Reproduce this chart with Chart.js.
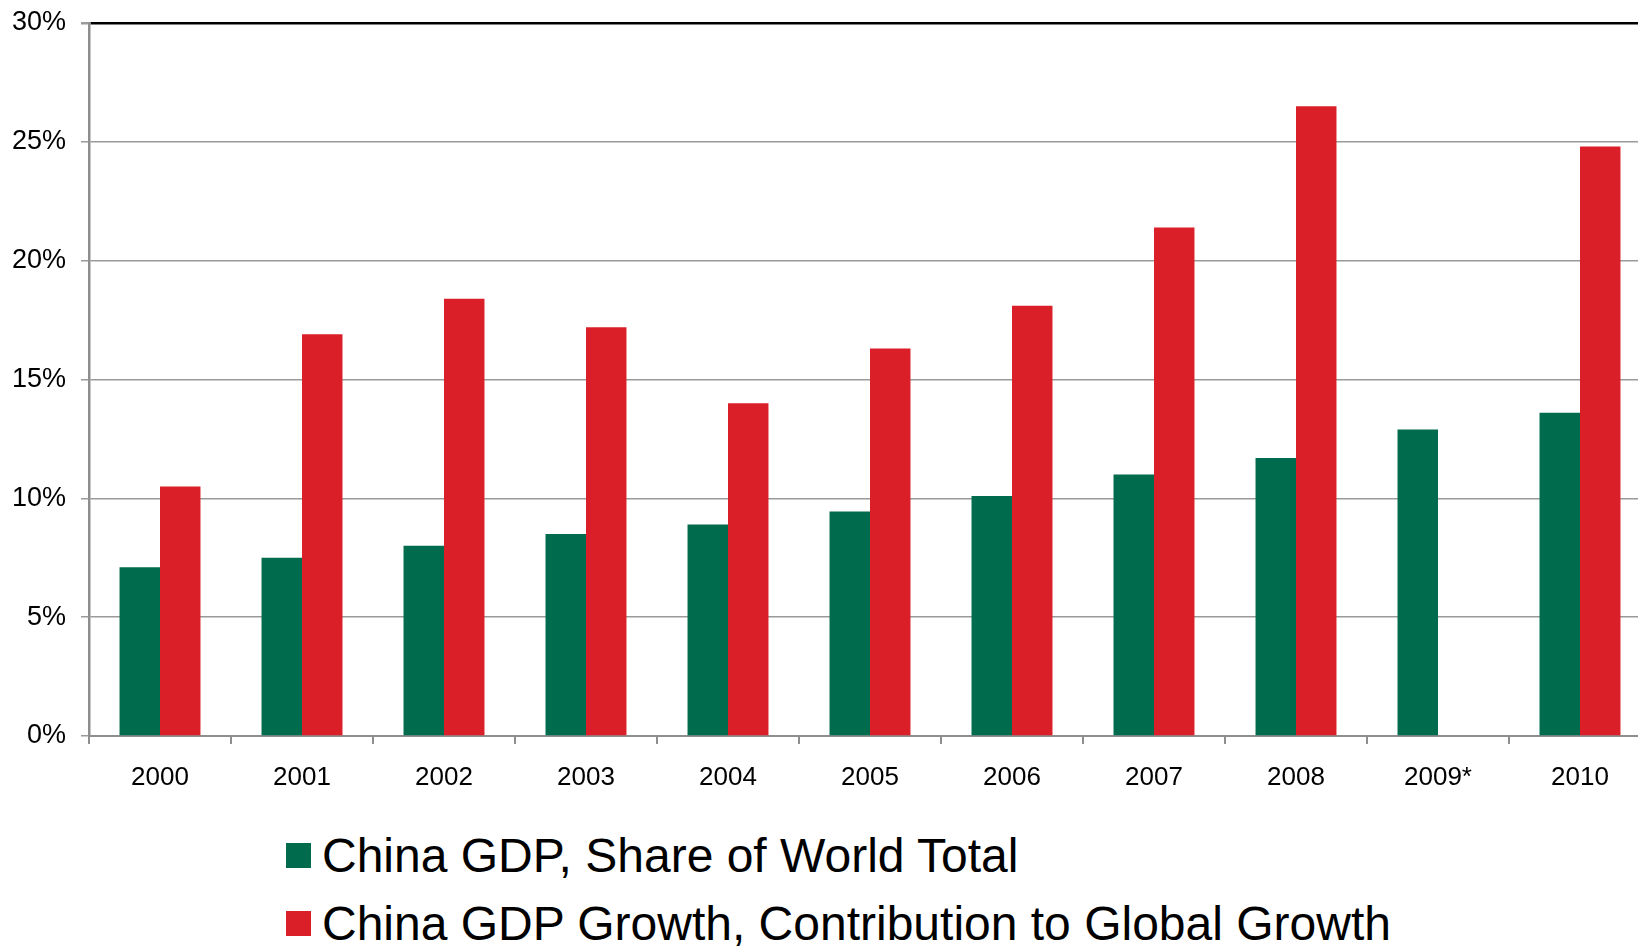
<!DOCTYPE html>
<html>
<head>
<meta charset="utf-8">
<script src="https://cdn.jsdelivr.net/npm/chart.js@4.4.0/dist/chart.umd.min.js"></script>
<style>
	html, body {
		margin: 0;
		padding: 0;
		background: #fff;
		width: 1638px;
		height: 950px;
		overflow: hidden;
		font-family: 'Liberation Sans', Arial, sans-serif;
	}
	#wrap {
		position: relative;
		width: 1638px;
		height: 950px;
	}
	#myChart {
		position: absolute;
		left: 0;
		top: 0;
	}
	.legend-row {
		position: absolute;
		left: 286px;
		height: 60px;
		display: flex;
		align-items: center;
		font-size: 48px;
		color: #000;
		white-space: nowrap;
	}
	.legend-box {
		width: 25px;
		height: 25px;
		margin-right: 11px;
	}
</style>
</head>
<body>
<div id="wrap">
	<canvas id="myChart" width="1652" height="801"></canvas>
	<div id="legend"></div>
</div>
<script>
const years = ['2000', '2001', '2002', '2003', '2004', '2005', '2006', '2007', '2008', '2009*', '2010'];
const shareOfWorld = [7.1, 7.5, 8.0, 8.5, 8.9, 9.45, 10.1, 11.0, 11.7, 12.9, 13.6];
const contribToGrowth = [10.5, 16.9, 18.4, 17.2, 14.0, 16.3, 18.1, 21.4, 26.5, null, 24.8];
const yTicks = [0, 5, 10, 15, 20, 25, 30];

const seriesNames = ['China GDP, Share of World Total', 'China GDP Growth, Contribution to Global Growth'];
const seriesColors = ['#016b4d', '#da1f29'];

const ctx = document.getElementById('myChart');

const chart = new Chart(ctx, {
	type: 'bar',
	data: {
		labels: years,
		datasets: [
			{
				label: seriesNames[0],
				data: shareOfWorld,
				backgroundColor: seriesColors[0],
			},
			{
				label: seriesNames[1],
				data: contribToGrowth,
				backgroundColor: seriesColors[1],
			},
		],
	},
	options: {
		responsive: false,
		animation: false,
		devicePixelRatio: 1,
		layout: {
			padding: { top: 23, right: 1, left: 0, bottom: 0 },
		},
		datasets: {
			bar: {
				categoryPercentage: 0.57,
				barPercentage: 1.0,
			},
		},
		scales: {
			x: {
				offset: true,
				grid: {
					drawOnChartArea: false,
					drawTicks: true,
					tickLength: 8,
					tickColor: '#8e8e8e',
					lineWidth: 2,
				},
				border: {
					color: '#8e8e8e',
					width: 2,
				},
				ticks: {
					color: '#000',
					padding: 18,
					maxRotation: 0,
					font: { family: "'Liberation Sans', Arial, sans-serif", size: 26 },
				},
				afterFit: (scale) => {
					scale.height = 65;
				},
			},
			y: {
				min: 0,
				max: 30,
				afterBuildTicks: (scale) => {
					scale.ticks = yTicks.map((v) => ({ value: v }));
				},
				grid: {
					color: (c) => (c.tick && c.tick.value == 30 ? '#000' : '#9a9a9a'),
					lineWidth: (c) => (c.tick && c.tick.value == 30 ? 2.5 : 1.5),
					tickColor: '#9a9a9a',
					tickLength: 8,
				},
				border: {
					color: '#8e8e8e',
					width: 2.5,
				},
				ticks: {
					color: '#000',
					padding: 15,
					font: { family: "'Liberation Sans', Arial, sans-serif", size: 27 },
					callback: (v) => `${v}%`,
				},
				afterFit: (scale) => {
					scale.width = 89;
					// let the top label hang over the edge, as in the original
					scale.paddingTop = 0;
					scale.paddingBottom = 0;
				},
			},
		},
		plugins: {
			legend: {
				display: false,
			},
			tooltip: {
				enabled: false,
			},
		},
		events: [],
	},
});

// legend as plain html, left aligned like the original
const legendTops = [825, 893];
let legendHtml = '';
for (let i = 0; i < seriesNames.length; i++) {
	legendHtml += `<div class="legend-row" style="top:${legendTops[i]}px"><div class="legend-box" style="background:${seriesColors[i]}"></div>${seriesNames[i]}</div>`;
}
document.getElementById('legend').innerHTML = legendHtml;
</script>
</body>
</html>
